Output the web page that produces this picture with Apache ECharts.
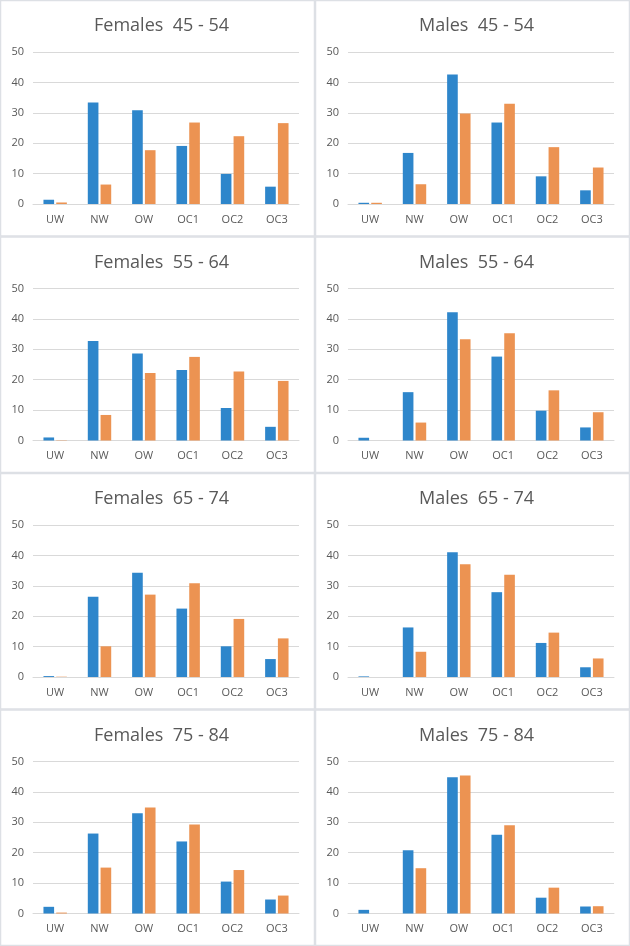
<!DOCTYPE html>
<html>
<head>
<meta charset="utf-8">
<script src="https://cdn.jsdelivr.net/npm/echarts@6/dist/echarts.min.js"></script>
<style>
  html, body { margin: 0; padding: 0; background: #ffffff; }
  #chart { width: 630px; height: 946px; }
</style>
</head>
<body>
<div id="chart"></div>
<script>
const categories = ['UW', 'NW', 'OW', 'OC1', 'OC2', 'OC3'];
const yTicks = [0, 10, 20, 30, 40, 50];

const panelTitles = [
  'Females  45 - 54', 'Males  45 - 54',
  'Females  55 - 64', 'Males  55 - 64',
  'Females  65 - 74', 'Males  65 - 74',
  'Females  75 - 84', 'Males  75 - 84'
];

const females4554Blue   = [1.4, 33.4, 30.8, 19.1, 9.9, 5.7];
const females4554Orange = [0.5, 6.4, 17.7, 26.8, 22.3, 26.6];
const males4554Blue     = [0.4, 16.8, 42.6, 26.8, 9.1, 4.5];
const males4554Orange   = [0.4, 6.5, 29.8, 33.0, 18.7, 12.0];

const females5564Blue   = [1.0, 32.7, 28.6, 23.2, 10.7, 4.5];
const females5564Orange = [0.1, 8.4, 22.2, 27.5, 22.7, 19.6];
const males5564Blue     = [0.9, 15.9, 42.2, 27.6, 9.8, 4.3];
const males5564Orange   = [0.0, 5.9, 33.3, 35.3, 16.5, 9.3];

const females6574Blue   = [0.3, 26.4, 34.3, 22.5, 10.1, 5.9];
const females6574Orange = [0.1, 10.1, 27.1, 30.8, 19.1, 12.7];
const males6574Blue     = [0.2, 16.3, 41.0, 27.9, 11.2, 3.2];
const males6574Orange   = [0.0, 8.3, 37.1, 33.6, 14.6, 6.1];

const females7584Blue   = [2.2, 26.3, 33.0, 23.7, 10.5, 4.6];
const females7584Orange = [0.3, 15.1, 34.9, 29.3, 14.3, 5.9];
const males7584Blue     = [1.2, 20.8, 44.8, 25.9, 5.2, 2.3];
const males7584Orange   = [0.0, 14.9, 45.4, 29.0, 8.5, 2.4];

const panelBlue = [
  females4554Blue, males4554Blue,
  females5564Blue, males5564Blue,
  females6574Blue, males6574Blue,
  females7584Blue, males7584Blue
];
const panelOrange = [
  females4554Orange, males4554Orange,
  females5564Orange, males5564Orange,
  females6574Orange, males6574Orange,
  females7584Orange, males7584Orange
];

const W = 630, H = 946;
const colW = 315, rowH = H / 4;
const BLUE = '#2E86CB', ORANGE = '#EC9352';
const TEXT = '#595959';
const FONT = '"Open Sans", "Liberation Sans", sans-serif';

const titles = [], grids = [], xAxes = [], yAxes = [], series = [], graphics = [];

for (let i = 0; i < 8; i++) {
  const col = i % 2, row = Math.floor(i / 2);
  const px = col * colW, py = row * rowH;

  graphics.push({
    type: 'rect',
    shape: { x: px + 0.5, y: py + 0.5, width: colW - 1, height: rowH - 1 },
    style: { fill: '#ffffff', stroke: '#dde0e5', lineWidth: 1.5 },
    z: -10, silent: true
  });

  titles.push({
    text: panelTitles[i],
    left: px + colW / 2 - 1,
    top: py + 12,
    textAlign: 'center',
    textStyle: { color: TEXT, fontSize: 18, fontWeight: 'normal', fontFamily: FONT }
  });

  grids.push({
    left: px + 33,
    top: py + 52,
    width: 266,
    height: 152,
    containLabel: false
  });

  xAxes.push({
    type: 'category',
    gridIndex: i,
    data: categories,
    axisLine: { show: true, lineStyle: { color: '#d9d9d9', width: 1 } },
    axisTick: { show: false },
    axisLabel: { color: TEXT, fontSize: 11, fontFamily: FONT, margin: 10 },
    splitLine: { show: false }
  });

  yAxes.push({
    type: 'value',
    gridIndex: i,
    min: yTicks[0],
    max: yTicks[yTicks.length - 1],
    interval: 10,
    axisLine: { show: false },
    axisTick: { show: false },
    axisLabel: { color: TEXT, fontSize: 11, fontFamily: FONT, margin: 9 },
    splitLine: { show: true, lineStyle: { color: '#d9d9d9', width: 1 } }
  });

  series.push({
    name: 'Series 1',
    type: 'bar',
    xAxisIndex: i,
    yAxisIndex: i,
    data: panelBlue[i],
    barWidth: '24%',
    barGap: '20%',
    itemStyle: { color: BLUE },
    silent: true
  });
  series.push({
    name: 'Series 2',
    type: 'bar',
    xAxisIndex: i,
    yAxisIndex: i,
    data: panelOrange[i],
    barWidth: '24%',
    barGap: '20%',
    itemStyle: { color: ORANGE },
    silent: true
  });
}

const chart = echarts.init(document.getElementById('chart'), null, { renderer: 'canvas' });
chart.setOption({
  animation: false,
  backgroundColor: '#ffffff',
  title: titles,
  grid: grids,
  xAxis: xAxes,
  yAxis: yAxes,
  series: series,
  graphic: graphics
});
</script>
</body>
</html>
